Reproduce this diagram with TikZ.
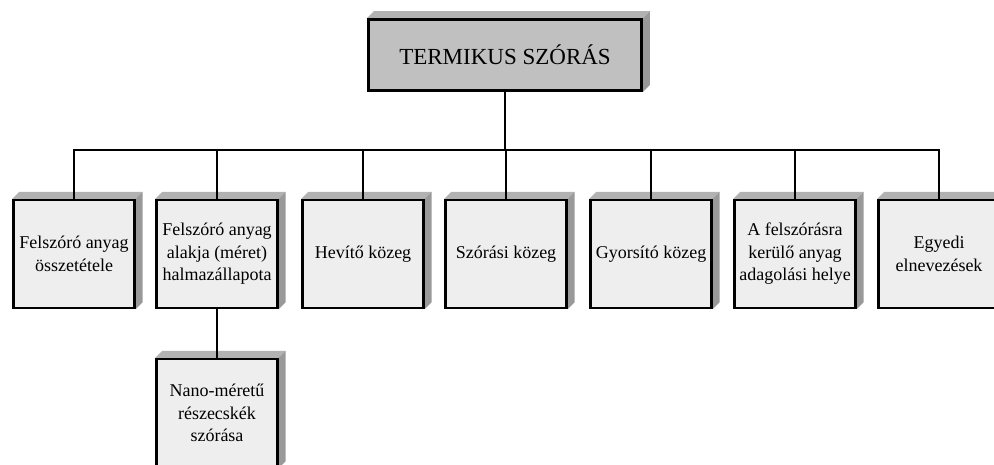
\documentclass[tikz,border=0pt]{standalone}
\usepackage{fontspec}
\setmainfont{Liberation Serif}
\usepackage{tikz}
\usetikzlibrary{backgrounds}
\definecolor{lapszurke}{HTML}{EEEEEE}
\definecolor{fejszurke}{HTML}{C0C0C0}
\definecolor{tetoszurke}{HTML}{B2B2B2}
\definecolor{oldalszurke}{HTML}{999999}

\tikzset{
  kartya/.style={draw=black, line width=2.4pt, fill=lapszurke, align=center,
    minimum width=121, minimum height=108, inner sep=1pt,
    font=\fontsize{18}{22.5}\selectfont},
  fej/.style={kartya, fill=fejszurke, line width=2.8pt,
    minimum width=273, minimum height=71, font=\fontsize{23}{27}\selectfont},
  vonal/.style={line width=2pt}
}

\begin{document}
\begin{tikzpicture}[x=1pt,y=-1pt]
\useasboundingbox (0,0) rectangle (994,464);
% fejlec
\node[fej] (termikus) at (505,55) {TERMIKUS SZ\'OR\'AS};
% elso sor
\node[kartya] (osszetetel) at (74,254) {Felsz\'or\'o anyag\\\"osszet\'etele};
\node[kartya] (alak) at (217,254) {Felsz\'or\'o anyag\\alakja (m\'eret)\\halmaz\'allapota};
\node[kartya] (hevito) at (363,254) {Hev\'it\H{o} k\"ozeg};
\node[kartya] (szorasi) at (506,254) {Sz\'or\'asi k\"ozeg};
\node[kartya] (gyorsito) at (651,254) {Gyors\'it\'o k\"ozeg};
\node[kartya] (adagolas) at (795,254) {A felsz\'or\'asra\\ker\"ul\H{o} anyag\\adagol\'asi helye};
\node[kartya] (egyedi) at (939,254) {Egyedi\\elnevez\'esek};
% also sor
\node[kartya] (nano) at (217,413) {Nano-m\'eret\H{u}\\r\'eszecsk\'ek\\sz\'or\'asa};

% terbeli oldalak
\begin{scope}[on background layer]
\foreach \n in {termikus,osszetetel,alak,hevito,szorasi,gyorsito,adagolas,egyedi,nano} {
  \fill[tetoszurke] (\n.north west) -- ++(7,-7) -- ([shift={(7,-7)}]\n.north east) -- (\n.north east) -- cycle;
  \fill[oldalszurke] (\n.north east) -- ++(7,-7) -- ([shift={(7,-7)}]\n.south east) -- (\n.south east) -- cycle;
}
\end{scope}

% osszekotesek
\coordinate (sin) at (termikus.south |- 0,150);
\draw[vonal] (termikus.south) -- (sin);
\foreach \n in {osszetetel,alak,hevito,szorasi,gyorsito,adagolas,egyedi}
  \draw[vonal] (sin) -| (\n.north);
\draw[vonal] (alak.south) -- (nano.north);
\end{tikzpicture}
\end{document}
